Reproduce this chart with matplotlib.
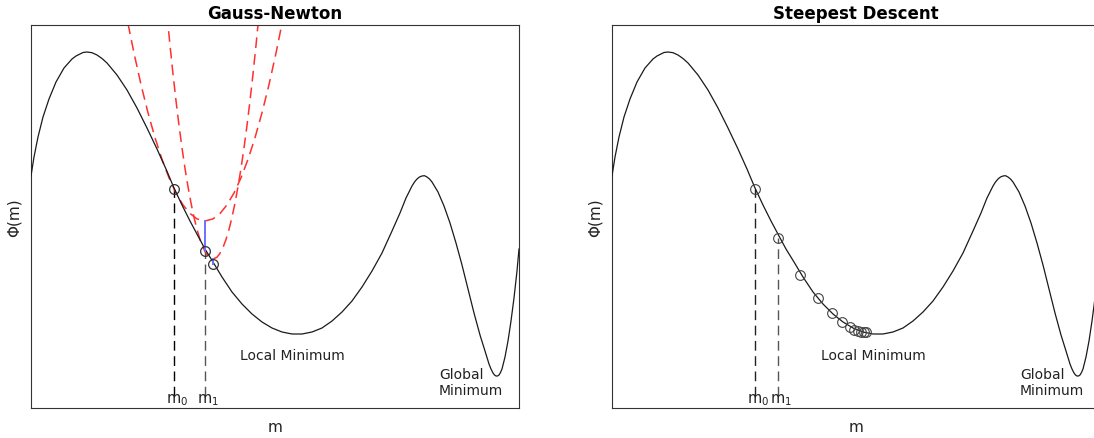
"""Gauss-Newton vs steepest descent on a 1-D misfit curve Phi(m)."""
import matplotlib

matplotlib.use("Agg")
import matplotlib.pyplot as plt

# misfit curve Phi(m), arbitrary units
m_curve = [0, 3, 7, 12, 18, 25, 33, 41, 45, 49, 52, 56, 61, 66, 71, 76, 86, 96,
           106, 116, 126, 135, 143, 151, 159, 167, 174, 182, 191, 201, 211, 221,
           231, 241, 251, 261, 271, 281, 291, 301, 311, 321, 331, 341, 351, 361,
           369, 375, 381, 383.5, 386, 388.5, 391, 393.5, 396, 398.5, 401, 407,
           413, 419, 425, 431, 437, 443, 449, 454, 458, 460, 462, 463.5, 465,
           466.5, 468, 469.5, 471, 474, 477, 480, 483, 486, 488]
phi_curve = [232, 251, 271, 291, 309, 326, 340, 349, 352, 354, 355.5, 356,
             355.3, 353, 349.5, 345, 333, 318, 300, 280, 259, 239, 220, 203,
             187, 172, 159, 146, 131, 116, 104, 94, 86, 80, 76, 74, 74, 76, 80,
             87, 96, 107, 121, 137, 155, 177, 195, 210, 222, 226, 229, 231, 232,
             232.3, 231, 229, 226, 216, 202, 185, 165, 143, 119, 95, 73, 57, 44,
             39, 35, 33, 32, 32, 33, 35.5, 39, 51, 67, 87, 110, 137, 159]

# Gauss-Newton quadratic approximations (red dashed)
m_quad1 = [97, 103, 110, 117, 124, 131, 138, 145, 152, 159, 166, 174, 182, 189,
           196, 203, 210, 217, 224, 231, 238, 245, 251]
phi_quad1 = [384.4, 354.9, 323.4, 295.2, 270.3, 248.6, 230.2, 215.0, 203.1,
             194.5, 189.1, 187.0, 189.1, 194.5, 203.1, 215.0, 230.2, 248.6,
             270.3, 295.2, 323.4, 354.9, 384.4]
m_quad2 = [136, 139, 142, 145, 148, 151, 154, 157, 160, 163, 166, 169, 172, 175,
           178, 182, 186, 189, 192, 195, 198, 201, 204, 207, 210, 213, 216, 219,
           222, 225, 228]
phi_quad2 = [393.6, 362.7, 334.0, 307.3, 282.6, 260.1, 239.6, 221.3, 205.0,
             190.7, 178.6, 168.5, 160.6, 154.7, 150.8, 149.0, 150.8, 154.7,
             160.6, 168.5, 178.6, 190.7, 205.0, 221.3, 239.6, 260.1, 282.6,
             307.3, 334.0, 362.7, 393.6]

# Gauss-Newton iterates
m_gn = [143, 174, 182]
phi_gn = [219, 157, 144]
# jumps from quadratic minimum down to the true curve (blue)
m_jump = [174, 182]
phi_jump_top = [187, 149]
phi_jump_bot = [157, 144]

# steepest descent iterates
m_sd = [143, 166, 188, 206, 220, 230, 238, 242, 246, 249, 252, 254]
phi_sd = [219, 170, 133, 110, 95, 86, 81, 78, 77, 76, 76, 76]

M_LIM = (0, 488)
PHI_LIM = (0, 383)

W, H = 1094, 439
fig = plt.figure(figsize=(W / 100, H / 100), dpi=100)

panels = [
    ("Gauss-Newton", 31, "gn"),
    ("Steepest Descent", 612, "sd"),
]

for title, left_px, kind in panels:
    ax = fig.add_axes([left_px / W, 30 / H, 488 / W, 383 / H])
    ax.plot(m_curve, phi_curve, color="#1a1a1a", lw=0.9, zorder=3)

    if kind == "gn":
        ax.plot(m_quad1, phi_quad1, color="#ff3030", lw=1.1, dashes=(7, 4), zorder=2)
        ax.plot(m_quad2, phi_quad2, color="#ff3030", lw=1.1, dashes=(7, 4), zorder=2)
        for mj, top, bot in zip(m_jump, phi_jump_top, phi_jump_bot):
            ax.plot([mj, mj], [top, bot], color="#7070ff", lw=1.4, zorder=4)
        ax.plot([m_gn[0], m_gn[0]], [12, phi_gn[0]], color="black", lw=1.0,
                dashes=(7, 4), zorder=1)
        ax.plot([m_gn[1], m_gn[1]], [12, phi_gn[1]], color="#555555", lw=1.0,
                dashes=(7, 4), zorder=1)
        ax.plot(m_gn, phi_gn, "o", ms=7, mfc="none", mec="#333333", mew=0.9, zorder=5)
        marks = [(m_gn[0], r"$\mathregular{m_0}$"), (m_gn[1], r"$\mathregular{m_1}$")]
    else:
        ax.plot([m_sd[0], m_sd[0]], [12, phi_sd[0]], color="#222222", lw=1.0,
                dashes=(7, 4), zorder=1)
        ax.plot([m_sd[1], m_sd[1]], [12, phi_sd[1]], color="#555555", lw=1.0,
                dashes=(7, 4), zorder=1)
        ax.plot(m_sd, phi_sd, "o", ms=7, mfc="none", mec="#444444", mew=0.8, zorder=5)
        marks = [(m_sd[0], r"$\mathregular{m_0}$"), (m_sd[1], r"$\mathregular{m_1}$")]

    for mx, lab in marks:
        ax.text(mx + 3, 9, lab, ha="center", va="center", fontsize=10.5,
                color="#222222")

    ax.text(261, 53, "Local Minimum", ha="center", va="center", fontsize=10,
            color="#222222")
    ax.text(408, 26, "Global\nMinimum", ha="left", va="center", fontsize=10,
            color="#222222", linespacing=1.25)

    ax.set_xlim(*M_LIM)
    ax.set_ylim(*PHI_LIM)
    ax.set_xticks([])
    ax.set_yticks([])
    for sp in ax.spines.values():
        sp.set_color("#333333")
        sp.set_linewidth(0.8)
    ax.set_title(title, fontsize=12, fontweight="bold", pad=5)
    ax.set_xlabel("m", fontsize=11, labelpad=8, color="#222222")
    ax.set_ylabel("\u03a6(m)", fontsize=11, labelpad=7, color="#222222")

fig.savefig("out.png", dpi=100, facecolor="white")
